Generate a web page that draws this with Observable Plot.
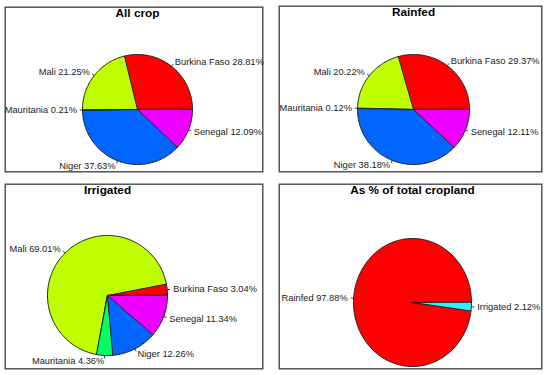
<!DOCTYPE html>
<html>
<head>
<meta charset="utf-8">
<script src="https://cdn.jsdelivr.net/npm/d3@7"></script>
<script src="https://cdn.jsdelivr.net/npm/@observablehq/plot@0.6"></script>
<style>
  body { margin: 0; background: #fff; }
  #wrap { position: relative; width: 550px; height: 375px; background: #fff; overflow: hidden; }
  #wrap svg { position: absolute; }
</style>
</head>
<body>
<div id="wrap"></div>
<script>
// ---- data ----
const countries = ["Burkina Faso", "Mali", "Mauritania", "Niger", "Senegal"];
const allCrop   = [28.81, 21.25, 0.21, 37.63, 12.09];
const rainfed   = [29.37, 20.22, 0.12, 38.18, 12.11];
const irrigated = [3.04, 69.01, 4.36, 12.26, 11.34];
const landTypes = ["Rainfed", "Irrigated"];
const landShares = [97.88, 2.12];
const panelTitles = ["All crop", "Rainfed", "Irrigated", "As % of total cropland"];

// ---- styling / layout ----
const countryColors = ["#FF0000", "#BFFF00", "#00FF66", "#0066FF", "#EE00FF"];
const landColors = ["#FF0000", "#33EEFF"];
const layout = [
  {left: 4,   top: 6,   w: 259, h: 166, cx: 133, cy: 103, rx: 55, ry: 55},
  {left: 278, top: 5,   w: 264, h: 167, cx: 135, cy: 104, rx: 56, ry: 55},
  {left: 4,   top: 183, w: 259, h: 186, cx: 103, cy: 112, rx: 60, ry: 60},
  {left: 278, top: 183, w: 264, h: 186, cx: 134, cy: 119, rx: 59, ry: 64}
];
const FONT = "'Liberation Sans', Arial, sans-serif";

function piePanel(title, names, values, colors, L) {
  const total = d3.sum(values);
  const pts = [];
  const labels = [];
  let acc = 0;
  names.forEach((name, i) => {
    const a0 = acc / total * 2 * Math.PI;
    acc += values[i];
    const a1 = acc / total * 2 * Math.PI;
    const n = Math.max(2, Math.ceil((a1 - a0) / (2 * Math.PI) * 240));
    pts.push({name, color: colors[i], x: 0, y: 0});
    for (let k = 0; k <= n; k++) {
      const a = a0 + (a1 - a0) * k / n;
      pts.push({name, color: colors[i], x: Math.cos(a), y: Math.sin(a)});
    }
    const m = (a0 + a1) / 2;
    labels.push({text: `${name} ${values[i].toFixed(2)}%`, ux: Math.cos(m), uy: Math.sin(m)});
  });
  const xDomain = [-L.cx / L.rx, (L.w - L.cx) / L.rx];
  const yDomain = [-(L.h - L.cy) / L.ry, L.cy / L.ry];
  const right = labels.filter(d => d.ux >= 0);
  const left = labels.filter(d => d.ux < 0);
  const svg = Plot.plot({
    width: L.w, height: L.h, margin: 0,
    style: {background: "transparent", overflow: "visible", fontFamily: FONT},
    x: {axis: null, domain: xDomain, range: [0, L.w]},
    y: {axis: null, domain: yDomain, range: [L.h, 0]},
    color: {type: "identity"},
    marks: [
      Plot.frame({stroke: "#4a4a4a", strokeWidth: 1.4, inset: 0.7}),
      Plot.line(pts, {x: "x", y: "y", z: "name", fill: "color", stroke: "#222", strokeWidth: 1, curve: "linear-closed"}),
      Plot.link(labels, {x1: d => d.ux, y1: d => d.uy, x2: d => 1.05 * d.ux, y2: d => 1.05 * d.uy, stroke: "#222", strokeWidth: 0.9}),
      Plot.text(right, {x: d => 1.1 * d.ux, y: d => 1.1 * d.uy, text: "text", textAnchor: "start", fontSize: 9.3, fill: "#1a1a1a", fontFamily: FONT}),
      Plot.text(left, {x: d => 1.1 * d.ux, y: d => 1.1 * d.uy, text: "text", textAnchor: "end", fontSize: 9.3, fill: "#1a1a1a", fontFamily: FONT}),
      Plot.text([title], {x: 0, text: d => d, frameAnchor: "top", lineAnchor: "top", dy: 2.5, fontSize: 11.8, fontWeight: "bold", fill: "#000", fontFamily: FONT})
    ]
  });
  svg.style.left = L.left + "px";
  svg.style.top = L.top + "px";
  return svg;
}

const wrap = document.getElementById("wrap");
wrap.appendChild(piePanel(panelTitles[0], countries, allCrop, countryColors, layout[0]));
wrap.appendChild(piePanel(panelTitles[1], countries, rainfed, countryColors, layout[1]));
wrap.appendChild(piePanel(panelTitles[2], countries, irrigated, countryColors, layout[2]));
wrap.appendChild(piePanel(panelTitles[3], landTypes, landShares, landColors, layout[3]));
</script>
</body>
</html>
